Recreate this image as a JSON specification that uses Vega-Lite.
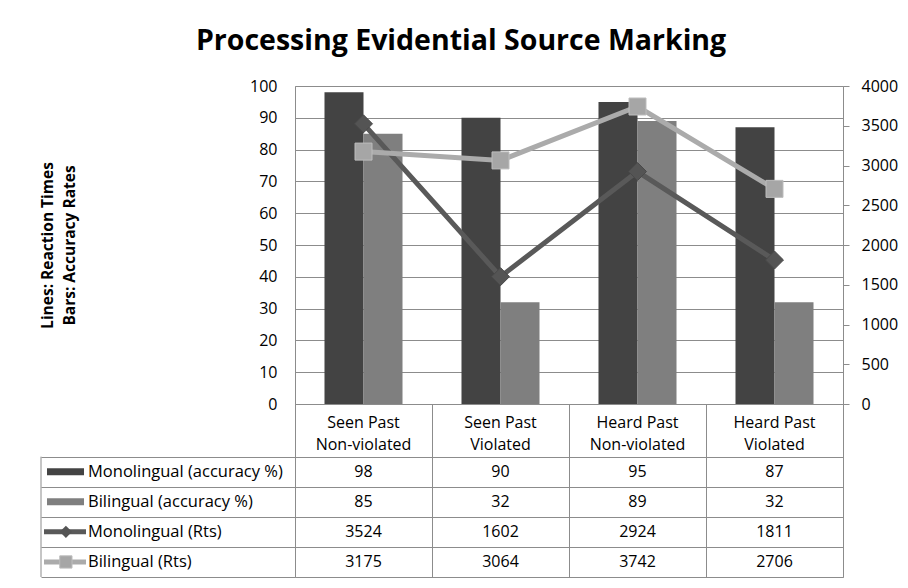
{
  "$schema": "https://vega.github.io/schema/vega-lite/v6.json",
  "padding": {"left": 40, "top": 27, "right": 5, "bottom": 5},
  "background": "white",
  "title": {"text": "Processing Evidential Source Marking", "font": "Open Sans", "fontSize": 28.5, "fontWeight": "bold", "color": "#000000", "anchor": "middle", "frame": "bounds", "offset": 22, "dx": -8},
  "config": {
    "font": "Open Sans",
    "view": {"stroke": null},
    "text": {"font": "Open Sans", "fontSize": 16, "color": "#000000"},
    "axis": {"labelFont": "Open Sans", "labelFontSize": 16, "labelColor": "#000000", "titleFont": "Open Sans"}
  },
  "datasets": {
    "cells": [
      {"cat": "Seen Past\nNon-violated", "series": "Monolingual (accuracy %)", "row": 1, "measure": "acc", "value": 98},
      {"cat": "Seen Past\nNon-violated", "series": "Bilingual (accuracy %)", "row": 2, "measure": "acc", "value": 85},
      {"cat": "Seen Past\nNon-violated", "series": "Monolingual (Rts)", "row": 3, "measure": "rt", "value": 3524},
      {"cat": "Seen Past\nNon-violated", "series": "Bilingual (Rts)", "row": 4, "measure": "rt", "value": 3175},
      {"cat": "Seen Past\nViolated", "series": "Monolingual (accuracy %)", "row": 1, "measure": "acc", "value": 90},
      {"cat": "Seen Past\nViolated", "series": "Bilingual (accuracy %)", "row": 2, "measure": "acc", "value": 32},
      {"cat": "Seen Past\nViolated", "series": "Monolingual (Rts)", "row": 3, "measure": "rt", "value": 1602},
      {"cat": "Seen Past\nViolated", "series": "Bilingual (Rts)", "row": 4, "measure": "rt", "value": 3064},
      {"cat": "Heard Past\nNon-violated", "series": "Monolingual (accuracy %)", "row": 1, "measure": "acc", "value": 95},
      {"cat": "Heard Past\nNon-violated", "series": "Bilingual (accuracy %)", "row": 2, "measure": "acc", "value": 89},
      {"cat": "Heard Past\nNon-violated", "series": "Monolingual (Rts)", "row": 3, "measure": "rt", "value": 2924},
      {"cat": "Heard Past\nNon-violated", "series": "Bilingual (Rts)", "row": 4, "measure": "rt", "value": 3742},
      {"cat": "Heard Past\nViolated", "series": "Monolingual (accuracy %)", "row": 1, "measure": "acc", "value": 87},
      {"cat": "Heard Past\nViolated", "series": "Bilingual (accuracy %)", "row": 2, "measure": "acc", "value": 32},
      {"cat": "Heard Past\nViolated", "series": "Monolingual (Rts)", "row": 3, "measure": "rt", "value": 1811},
      {"cat": "Heard Past\nViolated", "series": "Bilingual (Rts)", "row": 4, "measure": "rt", "value": 2706}
    ],
    "series": [
      {"series": "Monolingual (accuracy %)", "row": 1, "kind": "bar"},
      {"series": "Bilingual (accuracy %)", "row": 2, "kind": "bar"},
      {"series": "Monolingual (Rts)", "row": 3, "kind": "line"},
      {"series": "Bilingual (Rts)", "row": 4, "kind": "line"}
    ],
    "cats": [
      {"cat": "Seen Past\nNon-violated"},
      {"cat": "Seen Past\nViolated"},
      {"cat": "Heard Past\nNon-violated"},
      {"cat": "Heard Past\nViolated"}
    ]
  },
  "columns": 2,
  "spacing": 0,
  "bounds": "flush",
  "concat": [
    {
      "width": 254,
      "height": 318,
      "data": {"values": [{}]},
      "mark": {"type": "text"},
      "encoding": {"text": {"value": ""}}
    },
    {
      "width": 548,
      "height": 318,
      "view": {"stroke": "#8c8c8c"},
      "data": {"name": "cells"},
      "layer": [
        {
          "transform": [{"filter": "datum.measure == 'acc'"}],
          "mark": {"type": "bar"},
          "encoding": {
            "x": {"field": "cat", "type": "nominal", "scale": {"domain": ["Seen Past\nNon-violated", "Seen Past\nViolated", "Heard Past\nNon-violated", "Heard Past\nViolated"], "paddingInner": 0, "paddingOuter": 0}, "axis": {"labels": false, "ticks": false, "domain": false, "grid": false, "title": null}},
            "xOffset": {"field": "series", "type": "nominal", "scale": {"domain": ["Monolingual (accuracy %)", "Bilingual (accuracy %)"], "paddingInner": 0, "paddingOuter": 0.756}},
            "y": {"field": "value", "type": "quantitative", "scale": {"domain": [0, 100], "nice": false},
              "axis": {"orient": "left", "values": [0, 10, 20, 30, 40, 50, 60, 70, 80, 90, 100], "grid": true, "gridColor": "#8c8c8c", "ticks": false, "tickSize": 0, "domain": false, "labelPadding": 18,
                "title": ["Lines: Reaction Times", "Bars: Accuracy Rates"], "titleFontSize": 15.5, "titleFontWeight": "bold", "titleColor": "#000000", "titlePadding": 172, "titleLineHeight": 22}},
            "color": {"field": "series", "type": "nominal", "scale": {"domain": ["Monolingual (accuracy %)", "Bilingual (accuracy %)", "Monolingual (Rts)", "Bilingual (Rts)"], "range": ["#434343", "#7f7f7f", "#595959", "#ababab"]}, "legend": null}
          }
        },
        {
          "transform": [{"filter": "datum.measure == 'rt'"}],
          "encoding": {
            "x": {"field": "cat", "type": "nominal"},
            "y": {"field": "value", "type": "quantitative", "scale": {"domain": [0, 4000], "nice": false},
              "axis": {"orient": "right", "values": [0, 500, 1000, 1500, 2000, 2500, 3000, 3500, 4000], "format": "d", "grid": false, "ticks": true, "tickSize": 6, "tickColor": "#8c8c8c", "domain": false, "labelPadding": 12, "labelAlign": "left", "title": null}}
          },
          "layer": [
            {
              "transform": [{"filter": "datum.series == 'Monolingual (Rts)'"}],
              "mark": {"type": "line", "strokeWidth": 5, "color": "#595959"}
            },
            {
              "transform": [{"filter": "datum.series == 'Monolingual (Rts)'"}],
              "mark": {"type": "point", "shape": "diamond", "filled": true, "size": 324, "opacity": 1, "color": "#545454", "stroke": "#4a4a4a", "strokeWidth": 1}
            },
            {
              "transform": [{"filter": "datum.series == 'Bilingual (Rts)'"}],
              "mark": {"type": "line", "strokeWidth": 5, "color": "#ababab"}
            },
            {
              "transform": [{"filter": "datum.series == 'Bilingual (Rts)'"}],
              "mark": {"type": "point", "shape": "square", "filled": true, "size": 289, "opacity": 1, "fill": "#a6a6a6", "stroke": "#bdbdbd", "strokeWidth": 1}
            }
          ]
        }
      ],
      "resolve": {"scale": {"y": "independent"}}
    },
    {
      "width": 254,
      "height": 173,
      "data": {"name": "series"},
      "layer": [
        {
          "mark": {"type": "text", "align": "left", "fontSize": 16.5},
          "encoding": {
            "x": {"datum": 0.185, "type": "quantitative", "scale": {"domain": [0, 1], "nice": false, "zero": false}, "axis": null},
            "y": {"field": "row", "type": "quantitative", "scale": {"domain": [-1.25, 4.5], "nice": false, "zero": false, "reverse": true},
              "axis": {"values": [0.5, 1.5, 2.5, 3.5, 4.5], "grid": true, "gridColor": "#8c8c8c", "labels": false, "ticks": false, "domain": false, "title": null}},
            "text": {"field": "series"}
          }
        },
        {
          "data": {"values": [{}]},
          "mark": {"type": "rule", "color": "#8c8c8c"},
          "encoding": {"x": {"datum": 0}, "y": {"datum": 0.5}, "y2": {"datum": 4.5}}
        },
        {
          "transform": [{"filter": "datum.kind == 'bar'"}],
          "mark": {"type": "tick", "orient": "horizontal", "size": 37, "thickness": 7, "opacity": 1},
          "encoding": {
            "x": {"datum": 0.0965},
            "y": {"field": "row", "type": "quantitative"},
            "color": {"field": "series", "type": "nominal", "legend": null}
          }
        },
        {
          "transform": [{"filter": "datum.series == 'Monolingual (Rts)'"}],
          "mark": {"type": "tick", "orient": "horizontal", "size": 42, "thickness": 5, "opacity": 1, "color": "#595959"},
          "encoding": {"x": {"datum": 0.0945}, "y": {"field": "row", "type": "quantitative"}}
        },
        {
          "transform": [{"filter": "datum.series == 'Monolingual (Rts)'"}],
          "mark": {"type": "point", "shape": "diamond", "filled": true, "size": 150, "opacity": 1, "color": "#545454"},
          "encoding": {"x": {"datum": 0.098}, "y": {"field": "row", "type": "quantitative"}}
        },
        {
          "transform": [{"filter": "datum.series == 'Bilingual (Rts)'"}],
          "mark": {"type": "tick", "orient": "horizontal", "size": 42, "thickness": 5, "opacity": 1, "color": "#ababab"},
          "encoding": {"x": {"datum": 0.0945}, "y": {"field": "row", "type": "quantitative"}}
        },
        {
          "transform": [{"filter": "datum.series == 'Bilingual (Rts)'"}],
          "mark": {"type": "point", "shape": "square", "filled": true, "size": 150, "opacity": 1, "fill": "#a6a6a6", "stroke": "#bdbdbd", "strokeWidth": 1},
          "encoding": {"x": {"datum": 0.098}, "y": {"field": "row", "type": "quantitative"}}
        }
      ]
    },
    {
      "width": 548,
      "height": 173,
      "view": {"stroke": "#8c8c8c"},
      "layer": [
        {
          "data": {"name": "cells"},
          "mark": {"type": "text", "fontSize": 16},
          "encoding": {
            "x": {"field": "cat", "type": "nominal", "scale": {"domain": ["Seen Past\nNon-violated", "Seen Past\nViolated", "Heard Past\nNon-violated", "Heard Past\nViolated"], "paddingInner": 0, "paddingOuter": 0},
              "axis": {"labels": false, "ticks": false, "domain": false, "title": null, "grid": true, "tickBand": "extent", "gridColor": "#8c8c8c"}},
            "y": {"field": "row", "type": "quantitative", "scale": {"domain": [-1.25, 4.5], "nice": false, "zero": false, "reverse": true},
              "axis": {"values": [0.5, 1.5, 2.5, 3.5], "grid": true, "gridColor": "#8c8c8c", "labels": false, "ticks": false, "domain": false, "title": null}},
            "text": {"field": "value", "type": "quantitative", "format": "d"}
          }
        },
        {
          "data": {"name": "cats"},
          "mark": {"type": "text", "fontSize": 16, "lineBreak": "\n", "lineHeight": 22},
          "encoding": {
            "x": {"field": "cat", "type": "nominal"},
            "y": {"datum": -0.625},
            "text": {"field": "cat"}
          }
        }
      ]
    }
  ]
}
